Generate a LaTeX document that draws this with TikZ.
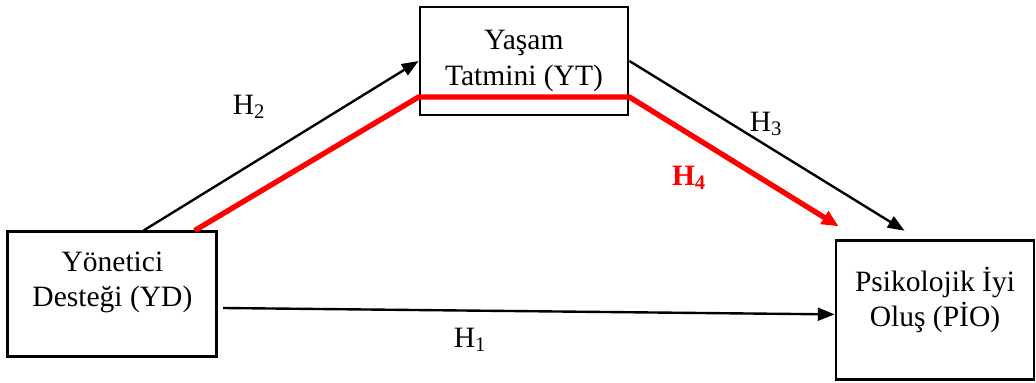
\documentclass[tikz,border=0pt]{standalone}
\usepackage{fontspec}
\setmainfont{Liberation Serif}
\usetikzlibrary{calc,arrows.meta,positioning}

\begin{document}
\begin{tikzpicture}[
    var/.style={draw,line width=2pt,align=center,inner sep=0pt,
                font=\fontsize{21}{25}\selectfont},
    hyp/.style={font=\fontsize{21}{25}\selectfont},
    arr/.style={-{Triangle[length=0.42cm,width=0.32cm]},line width=1.7pt},
    med/.style={-{Triangle[length=0.42cm,width=0.36cm]},line width=3.8pt,
                red,line join=round},
]
\useasboundingbox (0,0) rectangle (25.9,9.55);

% ---- Variables -----------------------------------------------------------
\node[var,minimum width=5.2cm,minimum height=2.7cm] (yt) at (13.1,8.025)
    {Yaşam\\Tatmini (YT)};
\node[var,minimum width=5.225cm,minimum height=3.125cm,text depth=0.75cm]
    (yd) at (2.81,2.19) {Yönetici\\Desteği (YD)};
\node[var,minimum width=4.95cm,minimum height=3.475cm,text depth=0.7cm]
    (pio) at (23.375,1.79) {Psikolojik İyi\\Oluş (PİO)};

% ---- Direct paths --------------------------------------------------------
\draw[arr] ([xshift=0.78cm]yd.north) -- (yt.west);
\draw[arr] (yt.east) -- ([xshift=1.75cm,yshift=0.22cm]pio.north west);
\draw[arr] ([shift={(0.12,-0.34)}]yd.east) -- ([yshift=-0.1cm]pio.west);

% ---- Mediation path (H4) -------------------------------------------------
\draw[med] ([xshift=2.06cm]yd.north) -- ([yshift=-0.9cm]yt.west)
    -- ([yshift=-0.9cm]yt.east) -- ([shift={(0.1,0.33)}]pio.north west);

% ---- Labels --------------------------------------------------------------
\node[hyp] (h2) at (6.225,6.875) {H\textsubscript{2}};
\node[hyp] (h3) at (19.15,6.45) {H\textsubscript{3}};
\node[hyp,red,font=\fontsize{21}{25}\selectfont\bfseries] (h4) at (17.225,5.1)
    {H\textsubscript{4}};
\node[hyp] (h1) at (11.75,1.05) {H\textsubscript{1}};

\end{tikzpicture}
\end{document}
